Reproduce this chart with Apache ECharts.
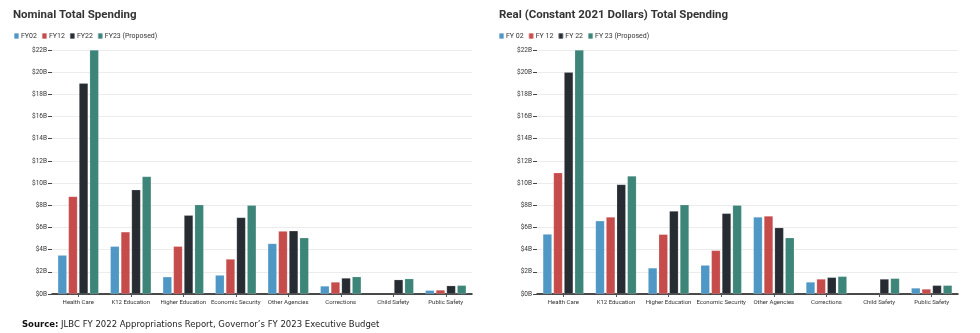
<!DOCTYPE html>
<html>
<head>
<meta charset="utf-8">
<script src="https://cdn.jsdelivr.net/npm/echarts@6/dist/echarts.min.js"></script>
<style>html,body{margin:0;padding:0;background:#fff}#c{width:980px;height:333px}</style>
</head>
<body>
<div id="c"></div>
<script>
const categories = ['Health Care','K12 Education','Higher Education','Economic Security','Other Agencies','Corrections','Child Safety','Public Safety'];
const yTicks = [0,2,4,6,8,10,12,14,16,18,20,22];

// Nominal ($B)
const nomFY02 = [3.5, 4.3, 1.55, 1.7, 4.55, 0.72, null, 0.33];
const nomFY12 = [8.8, 5.6, 4.3, 3.15, 5.67, 1.08, null, 0.36];
const nomFY22 = [19.0, 9.4, 7.1, 6.9, 5.7, 1.44, 1.29, 0.75];
const nomFY23 = [22.0, 10.6, 8.05, 8.0, 5.07, 1.56, 1.38, 0.78];

// Real, constant 2021 dollars ($B)
const realFY02 = [5.4, 6.6, 2.35, 2.6, 6.94, 1.08, null, 0.54];
const realFY12 = [10.93, 6.94, 5.38, 3.93, 7.03, 1.35, null, 0.45];
const realFY22 = [20.0, 9.88, 7.48, 7.27, 5.98, 1.5, 1.35, 0.78];
const realFY23 = [22.0, 10.63, 8.05, 8.0, 5.07, 1.59, 1.41, 0.78];

const colors = ['#4f97c5', '#c64b4b', '#272c33', '#3d8579'];
const leftNames = ['FY02','FY12','FY22','FY23 (Proposed)'];
const rightNames = ['FY 02','FY 12','FY 22','FY 23 (Proposed)'];

const chart = echarts.init(document.getElementById('c'), null, {renderer:'canvas'});

function xAxis(gi){
  return {
    type:'category', gridIndex:gi, data:categories,
    axisLine:{show:true, lineStyle:{color:'#111', width:1.5}},
    axisTick:{show:true, alignWithLabel:true, length:3, lineStyle:{color:'#555'}},
    axisLabel:{fontSize:6, color:'#333', margin:5, fontFamily:'Roboto', interval:0}
  };
}
function yAxis(gi){
  return {
    type:'value', gridIndex:gi, min:0, max:22, interval:2,
    axisLine:{show:false},
    axisTick:{show:true, length:4, lineStyle:{color:'#444'}},
    splitLine:{lineStyle:{color:'#ececec', width:1.2}},
    axisLabel:{fontSize:6.5, color:'#333', margin:5, fontFamily:'Roboto',
      formatter: v => yTicks.indexOf(v) >= 0 ? '$' + v + 'B' : ''}
  };
}
function bars(names, arrs, gi){
  return arrs.map((d,i)=>({
    type:'bar', name:names[i], xAxisIndex:gi, yAxisIndex:gi, data:d,
    barWidth:9, barGap:'18%',
    itemStyle:{color:colors[i], borderColor:'rgba(255,255,255,0.35)', borderWidth:0.5},
    emphasis:{disabled:true}
  }));
}

const titleStyle = {fontFamily:'Roboto', fontWeight:'bold', fontSize:11.5, color:'#333'};
const legendText = {fontSize:7, color:'#333', fontFamily:'Roboto', padding:[0,0,0,-3]};

chart.setOption({
  animation:false,
  color: colors,
  title:[
    {text:'Nominal Total Spending', left:8, top:4, textStyle:titleStyle},
    {text:'Real (Constant 2021 Dollars) Total Spending', left:494, top:4, textStyle:titleStyle},
    {text:'{b|Source:} {n|JLBC FY 2022 Appropriations Report, Governor\u2019s FY 2023 Executive Budget}', left:22, top:320, padding:0,
      textStyle:{fontFamily:'DejaVu Sans', fontSize:8.5, color:'#222', fontWeight:'normal',
        rich:{b:{fontFamily:'DejaVu Sans', fontSize:8.5, fontWeight:'bold', color:'#111'},
              n:{fontFamily:'DejaVu Sans', fontSize:8.5, fontWeight:'normal', color:'#222'}}}}
  ],
  legend:[
    {data:leftNames, left:8, top:27, itemWidth:5, itemHeight:6, itemGap:4, icon:'roundRect', textStyle:legendText},
    {data:rightNames, left:493, top:27, itemWidth:5, itemHeight:6, itemGap:4, icon:'roundRect', textStyle:legendText}
  ],
  grid:[
    {left:52, width:420, top:50, height:244},
    {left:537, width:421, top:50, height:244}
  ],
  xAxis:[xAxis(0), xAxis(1)],
  yAxis:[yAxis(0), yAxis(1)],
  series:[
    ...bars(leftNames, [nomFY02, nomFY12, nomFY22, nomFY23], 0),
    ...bars(rightNames, [realFY02, realFY12, realFY22, realFY23], 1)
  ]
});
</script>
</body>
</html>
